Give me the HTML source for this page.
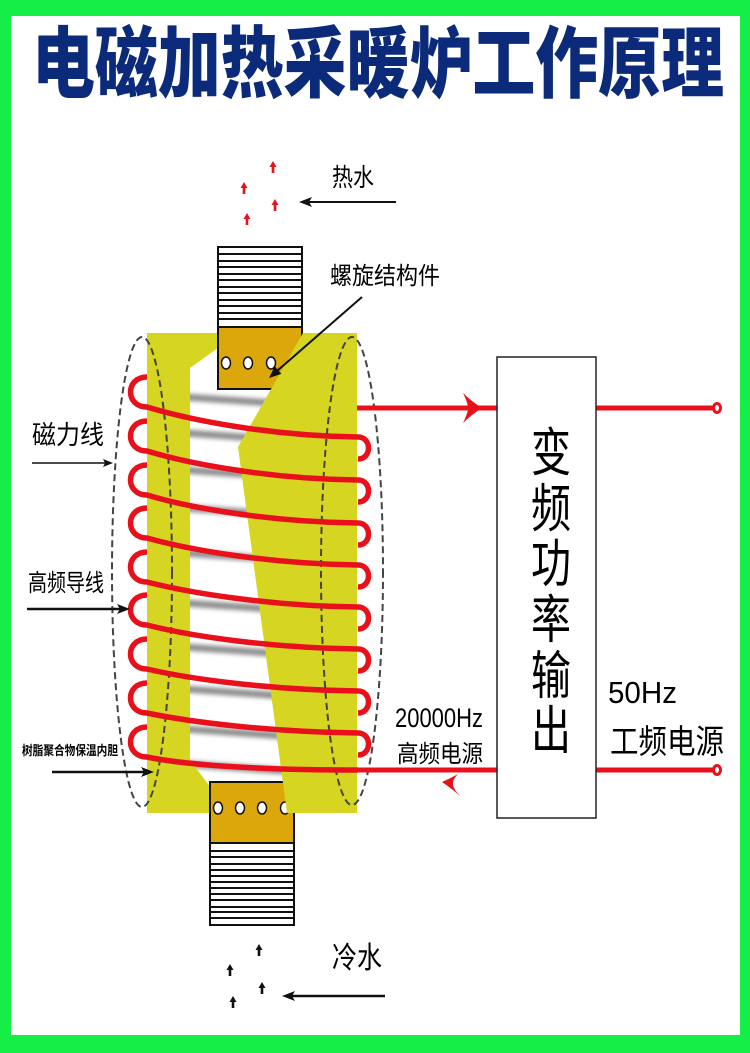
<!DOCTYPE html>
<html><head><meta charset="utf-8"><style>
html,body{margin:0;padding:0;width:750px;height:1053px;overflow:hidden;background:#fff}
svg{display:block}
text{font-family:"Liberation Sans","Noto Sans CJK SC",sans-serif;fill:#000}
</style></head><body>
<svg width="750" height="1053" viewBox="0 0 750 1053" xmlns="http://www.w3.org/2000/svg">
<defs>
<filter id="bl" x="-20%" y="-20%" width="140%" height="140%"><feGaussianBlur stdDeviation="2.2"/></filter>
<clipPath id="wc"><polygon points="222,345 190,368 190,760 214,792 300,792 300,345"/></clipPath>
</defs>
<rect width="750" height="1053" fill="#14ee46"/>
<rect x="11" y="16" width="729" height="1019" fill="#fff"/>
<text x="32" y="91" font-size="78" font-weight="900" textLength="692" lengthAdjust="spacingAndGlyphs" style="font-family:'Noto Sans CJK SC',sans-serif;fill:#0c2a7a">电磁加热采暖炉工作原理</text>

<!-- yellow body -->
<rect x="147" y="333" width="210" height="480" fill="#d6d522"/>
<polygon points="222,345 190,368 190,760 214,792 300,792 300,345" fill="#fff"/>
<g clip-path="url(#wc)"><g filter="url(#bl)" stroke="#8e8e8e" stroke-width="7">
<line x1="185" y1="397" x2="300" y2="405"/>
<line x1="185" y1="433" x2="300" y2="441"/>
<line x1="185" y1="470" x2="300" y2="478"/>
<line x1="185" y1="508" x2="300" y2="516"/>
<line x1="185" y1="553" x2="300" y2="561"/>
<line x1="185" y1="603" x2="300" y2="611"/>
<line x1="185" y1="647" x2="300" y2="655"/>
<line x1="185" y1="689" x2="300" y2="697"/>
<line x1="185" y1="729" x2="300" y2="737"/>
<line x1="185" y1="764" x2="300" y2="772"/>
</g></g>

<!-- top pipe -->
<rect x="218" y="247" width="84" height="80" fill="#fff" stroke="#111" stroke-width="2"/>
<g stroke="#111" stroke-width="2">
<line x1="218" y1="254" x2="302" y2="254"/><line x1="218" y1="261" x2="302" y2="261"/>
<line x1="218" y1="267" x2="302" y2="267"/><line x1="218" y1="274" x2="302" y2="274"/>
<line x1="218" y1="280" x2="302" y2="280"/><line x1="218" y1="287" x2="302" y2="287"/>
<line x1="218" y1="293" x2="302" y2="293"/><line x1="218" y1="300" x2="302" y2="300"/>
<line x1="218" y1="306" x2="302" y2="306"/><line x1="218" y1="313" x2="302" y2="313"/>
<line x1="218" y1="319" x2="302" y2="319"/>
</g>
<rect x="218" y="327" width="84" height="62" fill="#dca70b" stroke="#111" stroke-width="2"/>
<g fill="#fff" stroke="#111" stroke-width="1.5">
<ellipse cx="226" cy="363" rx="4.5" ry="6"/><ellipse cx="248" cy="363" rx="4.5" ry="6"/><ellipse cx="271" cy="363" rx="4.5" ry="6"/>
</g>

<!-- bottom pipe -->
<rect x="210" y="843" width="84" height="82" fill="#fff" stroke="#111" stroke-width="2"/>
<g stroke="#111" stroke-width="2">
<line x1="210" y1="851" x2="294" y2="851"/><line x1="210" y1="857" x2="294" y2="857"/>
<line x1="210" y1="864" x2="294" y2="864"/><line x1="210" y1="870" x2="294" y2="870"/>
<line x1="210" y1="876" x2="294" y2="876"/><line x1="210" y1="882" x2="294" y2="882"/>
<line x1="210" y1="888" x2="294" y2="888"/><line x1="210" y1="894" x2="294" y2="894"/>
<line x1="210" y1="900" x2="294" y2="900"/><line x1="210" y1="907" x2="294" y2="907"/>
<line x1="210" y1="912" x2="294" y2="912"/><line x1="210" y1="918" x2="294" y2="918"/>
</g>
<rect x="210" y="782" width="84" height="61" fill="#dca70b" stroke="#111" stroke-width="2"/>
<g fill="#fff" stroke="#111" stroke-width="1.5">
<ellipse cx="218" cy="808" rx="4.5" ry="6"/><ellipse cx="240" cy="808" rx="4.5" ry="6"/><ellipse cx="262" cy="808" rx="4.5" ry="6"/><ellipse cx="285" cy="808" rx="4.5" ry="6"/>
</g>

<!-- right yellow piece -->
<polygon points="303,333 357,333 357,813 287,813 238,447" fill="#d6d522"/>

<!-- dashed field lines -->
<g fill="none" stroke="#444" stroke-width="2" stroke-dasharray="7 4">
<ellipse cx="142" cy="572" rx="30" ry="235"/>
<ellipse cx="352" cy="571" rx="31" ry="234"/>
</g>

<!-- coil -->
<g fill="none" stroke="#e8101a" stroke-width="5.5" stroke-linecap="butt">
<path d="M147,377 C125,377 125,407 147,407 C190,420 270,436 358,437"/>
<path d="M358,437 C372,437 372,459 358,459"/>
<path d="M147,421 C125,421 125,451 147,451 C190,464 270,479 358,480"/>
<path d="M358,480 C372,480 372,502 358,502"/>
<path d="M147,465 C125,465 125,495 147,495 C190,508 270,522 358,523"/>
<path d="M358,523 C372,523 372,545 358,545"/>
<path d="M147,508 C125,508 125,538 147,538 C190,550 270,564 358,565"/>
<path d="M358,565 C372,565 372,587 358,587"/>
<path d="M147,552 C125,552 125,582 147,582 C190,593 270,606 358,607"/>
<path d="M358,607 C372,607 372,629 358,629"/>
<path d="M147,595 C125,595 125,625 147,625 C190,636 270,648 358,649"/>
<path d="M358,649 C372,649 372,671 358,671"/>
<path d="M147,639 C125,639 125,669 147,669 C190,679 270,690 358,691"/>
<path d="M358,691 C372,691 372,713 358,713"/>
<path d="M147,683 C125,683 125,713 147,713 C190,722 270,732 358,733"/>
<path d="M358,733 C372,733 372,755 358,755"/>
<path d="M147,727 C125,727 125,757 147,757 C190,766 270,770 358,770"/>
</g>
<g stroke="#e8101a" stroke-width="5" fill="none">
<line x1="356" y1="770" x2="497" y2="770"/>
<line x1="357" y1="408" x2="497" y2="408"/>
<line x1="596" y1="408" x2="713" y2="408"/>
<line x1="596" y1="770" x2="713" y2="770"/>
</g>
<g fill="#fff" stroke="#e8101a" stroke-width="3">
<ellipse cx="717" cy="408" rx="3.5" ry="4.5"/>
<ellipse cx="717" cy="770" rx="3.5" ry="4.5"/>
</g>
<path d="M482,408 Q471,401 463,393 Q468,403 468,408 Q468,413 463,423 Q471,415 482,408 Z" fill="#e8101a"/>
<path d="M442,782 Q451,778 458,774 Q452,780 453,785 Q454,790 460,796 Q451,788 442,782 Z" fill="#e8101a"/>

<!-- box -->
<rect x="497" y="357" width="99" height="461" fill="#fff" stroke="#222" stroke-width="1.5"/>
<g font-size="52">
<text x="531" y="471" textLength="40" lengthAdjust="spacingAndGlyphs">变</text>
<text x="531" y="527" textLength="40" lengthAdjust="spacingAndGlyphs">频</text>
<text x="531" y="582" textLength="40" lengthAdjust="spacingAndGlyphs">功</text>
<text x="531" y="638" textLength="40" lengthAdjust="spacingAndGlyphs">率</text>
<text x="531" y="694" textLength="40" lengthAdjust="spacingAndGlyphs">输</text>
<text x="531" y="749" textLength="40" lengthAdjust="spacingAndGlyphs">出</text>
</g>

<!-- black arrows -->
<g stroke="#111" fill="none">
<line x1="396" y1="202" x2="308" y2="202" stroke-width="2"/>
<line x1="362" y1="297" x2="277" y2="371" stroke-width="2"/>
<line x1="32" y1="463" x2="106" y2="463" stroke-width="1.5"/>
<line x1="27" y1="609" x2="120" y2="609" stroke-width="2.5"/>
<line x1="52" y1="772" x2="145" y2="772" stroke-width="2.5"/>
<line x1="385" y1="996" x2="292" y2="996" stroke-width="2.5"/>
</g>
<g fill="#111">
<polygon points="299,202 312,197 309,202 312,207"/>
<polygon points="269,378 281.4,373.9 274.8,366.3"/>
<polygon points="113,463 103,459 105,463 103,467"/>
<polygon points="130,609 117,604 120,609 117,614"/>
<polygon points="154,772 141,767 144,772 141,777"/>
<polygon points="282,996 295,991 292,996 295,1001"/>
</g>

<!-- small up arrows -->
<g fill="#e8101a">
<path d="M273,161 L276.5,167 L274.3,167 L274.3,173 L271.7,173 L271.7,167 L269.5,167 Z"/>
<path d="M244,182 L247.5,188 L245.3,188 L245.3,194 L242.7,194 L242.7,188 L240.5,188 Z"/>
<path d="M275,199 L278.5,205 L276.3,205 L276.3,211 L273.7,211 L273.7,205 L271.5,205 Z"/>
<path d="M247,213 L250.5,219 L248.3,219 L248.3,225 L245.7,225 L245.7,219 L243.5,219 Z"/>
</g>
<g fill="#111">
<path d="M259,944 L262.5,950 L260.3,950 L260.3,956 L257.7,956 L257.7,950 L255.5,950 Z"/>
<path d="M230,964 L233.5,970 L231.3,970 L231.3,976 L228.7,976 L228.7,970 L226.5,970 Z"/>
<path d="M262,982 L265.5,988 L263.3,988 L263.3,994 L260.7,994 L260.7,988 L258.5,988 Z"/>
<path d="M233,996 L236.5,1002 L234.3,1002 L234.3,1008 L231.7,1008 L231.7,1002 L229.5,1002 Z"/>
</g>

<!-- labels -->
<text x="332" y="186" font-size="25" textLength="42" lengthAdjust="spacingAndGlyphs">热水</text>
<text x="330" y="284" font-size="24" textLength="110" lengthAdjust="spacingAndGlyphs">螺旋结构件</text>
<text x="32" y="444" font-size="26" textLength="72" lengthAdjust="spacingAndGlyphs">磁力线</text>
<text x="28" y="591" font-size="24" textLength="76" lengthAdjust="spacingAndGlyphs">高频导线</text>
<text x="22" y="755" font-size="13" font-weight="bold" textLength="96" lengthAdjust="spacingAndGlyphs">树脂聚合物保温内胆</text>
<text x="332" y="968" font-size="30" textLength="50" lengthAdjust="spacingAndGlyphs">冷水</text>
<text x="395" y="727" font-size="27" textLength="88" lengthAdjust="spacingAndGlyphs">20000Hz</text>
<text x="397" y="762" font-size="24" textLength="86" lengthAdjust="spacingAndGlyphs">高频电源</text>
<text x="608" y="703" font-size="31" textLength="69" lengthAdjust="spacingAndGlyphs">50Hz</text>
<text x="610" y="753" font-size="33" textLength="114" lengthAdjust="spacingAndGlyphs">工频电源</text>
</svg>
</body></html>
